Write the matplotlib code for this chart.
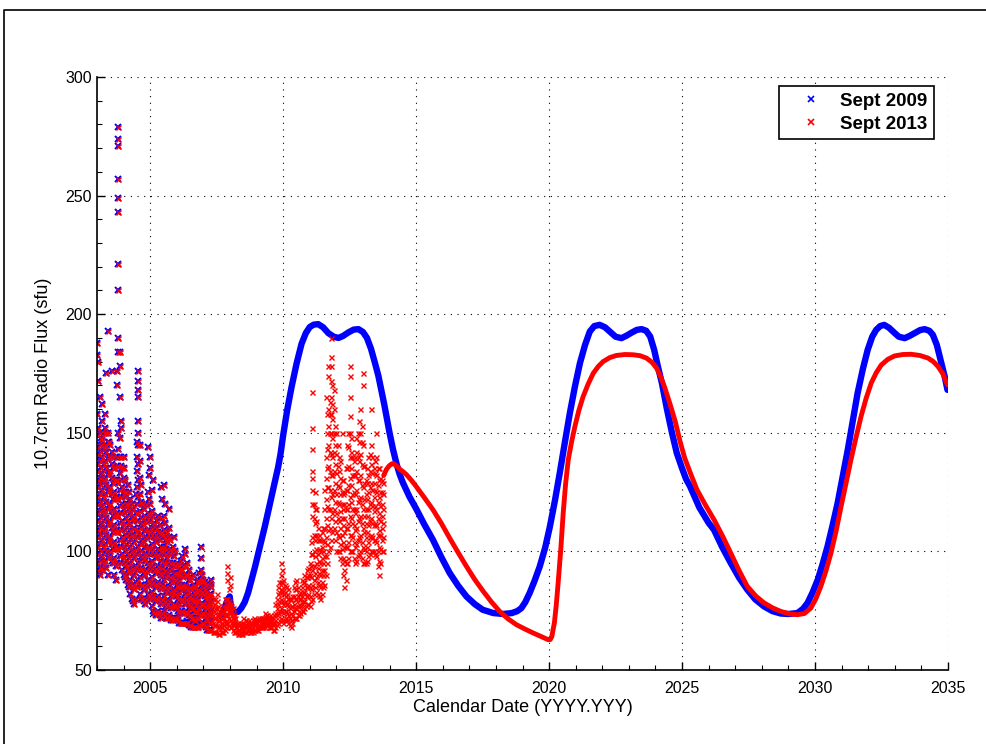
import numpy as np
import matplotlib
matplotlib.use("Agg")
import matplotlib.pyplot as plt
from matplotlib.lines import Line2D

plt.rcParams['font.family'] = ['Liberation Sans', 'DejaVu Sans']

# observed daily flux, grouped in columns: (year, [values])
obs_2003 = [
    (2003.00, [92, 99, 106, 113, 120, 127, 134, 141, 149, 158, 183, 188]),
    (2003.05, [95, 102, 109, 116, 123, 130, 137, 144, 152, 172, 180]),
    (2003.10, [90, 96, 103, 110, 117, 124, 131, 138, 145, 150, 165]),
    (2003.15, [93, 100, 107, 114, 121, 128, 135, 142, 148]),
    (2003.20, [92, 98, 105, 112, 119, 126, 133, 140, 147, 155, 162]),
    (2003.25, [95, 102, 109, 116, 123, 130, 137, 144, 150]),
    (2003.30, [96, 103, 110, 117, 124, 131, 138, 145, 152, 158]),
    (2003.35, [93, 100, 107, 114, 121, 128, 135, 142, 150, 175]),
    (2003.40, [90, 97, 104, 111, 118, 125, 132, 139, 146, 150, 193]),
    (2003.45, [98, 105, 112, 119, 126, 133, 140, 146]),
    (2003.50, [100, 106, 113, 120, 127, 134, 140, 145]),
    (2003.55, [96, 103, 110, 117, 124, 131, 137, 142, 176]),
    (2003.60, [95, 101, 108, 115, 122, 129, 135, 140]),
    (2003.65, [90, 97, 104, 111, 118, 125, 130, 135]),
    (2003.70, [88, 94, 101, 108, 115, 122, 130]),
    (2003.75, [95, 102, 109, 116, 123, 130, 136, 140, 170, 176]),
    (2003.80, [101, 108, 115, 122, 129, 136, 143, 150, 184, 190, 210, 221, 243, 249, 257, 271, 274, 279]),
    (2003.85, [98, 105, 112, 119, 126, 133, 140, 148, 165, 178, 184]),
    (2003.90, [95, 102, 109, 116, 123, 130, 136, 140, 152, 155]),
    (2003.95, [92, 99, 106, 113, 120, 127, 135]),
]
obs_2004 = [
    (2004.00, [90, 97, 104, 111, 118, 125, 131, 135, 140]),
    (2004.05, [89, 95, 102, 109, 116, 123, 130]),
    (2004.10, [88, 94, 100, 107, 114, 120, 125]),
    (2004.15, [86, 92, 99, 106, 113, 120, 128]),
    (2004.20, [85, 91, 97, 104, 111, 118, 125]),
    (2004.25, [82, 88, 95, 102, 109, 116, 122]),
    (2004.30, [80, 86, 93, 100, 107, 114, 120]),
    (2004.35, [79, 85, 92, 99, 106, 113, 118]),
    (2004.40, [78, 84, 90, 97, 104, 110, 115]),
    (2004.45, [80, 87, 94, 101, 108, 116, 124]),
    (2004.50, [85, 92, 99, 106, 113, 120, 127, 134, 140, 146]),
    (2004.55, [88, 95, 102, 109, 116, 123, 130, 137, 145, 150, 155, 165, 168, 172, 176]),
    (2004.60, [82, 89, 96, 103, 110, 117, 124, 131, 138, 145]),
    (2004.65, [80, 86, 93, 100, 107, 114, 121, 128]),
    (2004.70, [80, 86, 92, 98, 105, 112, 120]),
    (2004.75, [79, 85, 91, 97, 104, 111, 118]),
    (2004.80, [78, 84, 90, 96, 102, 109, 115]),
    (2004.85, [80, 86, 92, 99, 106, 113, 120]),
    (2004.90, [82, 88, 95, 102, 109, 116, 125, 144]),
    (2004.95, [81, 87, 94, 101, 108, 115, 122, 132]),
]
obs_2005 = [
    (2005.00, [80, 86, 92, 99, 106, 113, 120, 135, 140]),
    (2005.05, [77, 83, 89, 96, 103, 110, 117, 126]),
    (2005.10, [75, 81, 87, 94, 101, 108, 115, 130]),
    (2005.15, [74, 80, 86, 92, 99, 106, 112]),
    (2005.20, [73, 79, 85, 91, 97, 104, 110]),
    (2005.25, [74, 80, 86, 92, 99, 106, 113]),
    (2005.30, [75, 81, 87, 94, 101, 108, 115]),
    (2005.35, [73, 79, 85, 91, 98, 105, 111]),
    (2005.40, [72, 78, 84, 90, 96, 102, 108, 127]),
    (2005.45, [74, 80, 86, 93, 100, 107, 114, 122]),
    (2005.50, [75, 81, 88, 95, 102, 109, 115, 128]),
    (2005.55, [73, 79, 85, 92, 99, 106, 112, 120]),
    (2005.60, [72, 77, 83, 89, 95, 101, 105]),
    (2005.65, [72, 78, 84, 90, 97, 104, 108]),
    (2005.70, [73, 79, 85, 92, 99, 106, 110, 118]),
    (2005.75, [72, 77, 83, 89, 95, 101, 105]),
    (2005.80, [71, 76, 81, 87, 93, 100]),
    (2005.85, [71, 77, 83, 89, 95, 102]),
    (2005.90, [72, 78, 84, 91, 98, 106]),
    (2005.95, [72, 77, 82, 88, 94, 100]),
]
obs_2006 = [
    (2006.00, [72, 76, 81, 86, 91, 95]),
    (2006.05, [71, 75, 80, 85, 90, 94]),
    (2006.10, [70, 74, 78, 83, 88, 92]),
    (2006.15, [70, 75, 80, 85, 90, 96]),
    (2006.20, [70, 75, 80, 86, 92, 98]),
    (2006.25, [70, 74, 79, 84, 89, 94]),
    (2006.30, [70, 74, 78, 82, 86, 90, 99, 101]),
    (2006.35, [70, 75, 80, 85, 90, 94]),
    (2006.40, [70, 74, 79, 84, 90, 95]),
    (2006.45, [69, 73, 78, 83, 88, 92]),
    (2006.50, [69, 73, 77, 81, 85, 88]),
    (2006.55, [68, 72, 76, 80, 84, 89]),
    (2006.60, [68, 72, 76, 80, 85, 90]),
    (2006.65, [68, 71, 75, 79, 83, 86]),
    (2006.70, [68, 71, 75, 78, 82, 85]),
    (2006.75, [68, 72, 75, 79, 83, 87]),
    (2006.80, [68, 72, 76, 80, 84, 88]),
    (2006.85, [69, 73, 77, 82, 87, 91]),
    (2006.90, [69, 73, 78, 83, 88, 92, 97, 102]),
    (2006.95, [70, 74, 78, 83, 87, 90]),
]
obs_2007 = [
    (2007.00, [70, 74, 78, 82, 85, 88]),
    (2007.05, [69, 73, 77, 81, 84, 87]),
    (2007.10, [68, 72, 76, 80, 83, 86]),
    (2007.15, [67, 71, 74, 78, 81]),
    (2007.20, [67, 70, 73, 77, 80]),
    (2007.25, [67, 70, 74, 78, 82, 86]),
    (2007.30, [67, 71, 75, 79, 82, 85, 88]),
    (2007.35, [66, 70, 73, 77, 80]),
    (2007.40, [66, 69, 72, 75, 78]),
    (2007.45, [66, 69, 72, 76, 80]),
    (2007.50, [66, 69, 73, 76, 79, 82]),
    (2007.55, [65, 68, 71, 74, 77]),
    (2007.60, [65, 68, 71, 73, 75]),
    (2007.65, [66, 68, 70, 72, 74]),
    (2007.70, [66, 68, 70, 72, 74]),
    (2007.75, [66, 69, 72, 75, 77]),
    (2007.80, [67, 70, 73, 76, 80]),
    (2007.85, [68, 71, 74, 77, 80]),
    (2007.90, [70, 73, 76, 78, 80, 88, 91, 94]),
    (2007.95, [69, 72, 75, 77, 79, 84]),
]
obs_2008_2010 = [
    (2008.00, [68, 71, 74, 76, 78, 86, 89]), (2008.05, [68, 70, 73, 75, 77]),
    (2008.10, [67, 70, 72, 74, 76]), (2008.15, [66, 69, 71, 73]),
    (2008.20, [66, 68, 70, 72]), (2008.25, [66, 68, 70]),
    (2008.30, [65, 67, 69, 70]), (2008.35, [65, 67, 69]),
    (2008.40, [65, 66, 68, 70]), (2008.45, [65, 67, 69]),
    (2008.50, [66, 68, 70, 72]), (2008.55, [66, 69, 71]),
    (2008.60, [66, 68, 69, 71]), (2008.65, [67, 69, 70]),
    (2008.70, [67, 68, 70, 71]), (2008.75, [66, 68, 70]),
    (2008.80, [66, 67, 69, 70]), (2008.85, [66, 68, 71]),
    (2008.90, [67, 69, 70, 72]), (2008.95, [67, 69, 71]),
    (2009.00, [67, 68, 70, 71]), (2009.05, [67, 69, 71]),
    (2009.10, [68, 69, 71, 72]), (2009.15, [68, 70, 72]),
    (2009.20, [68, 70, 71, 72]), (2009.25, [68, 70, 72]),
    (2009.30, [68, 70, 72, 74]), (2009.35, [69, 71, 73]),
    (2009.40, [69, 70, 72, 73]), (2009.45, [68, 70, 72]),
    (2009.50, [68, 70, 71, 73]), (2009.55, [68, 70, 72]),
    (2009.60, [67, 69, 70, 72]), (2009.65, [67, 70, 73]),
    (2009.70, [68, 71, 74, 78]), (2009.75, [69, 73, 76, 80]),
    (2009.80, [70, 74, 78, 82, 85]), (2009.85, [71, 75, 79, 83, 87]),
    (2009.90, [72, 76, 80, 84, 87, 90, 95]), (2009.95, [71, 75, 79, 83, 87, 92]),
    (2010.00, [70, 74, 78, 82, 85, 88]), (2010.05, [71, 75, 79, 83, 86]),
    (2010.10, [72, 75, 78, 81, 85]), (2010.15, [71, 74, 78, 82]),
    (2010.20, [70, 73, 77, 80, 84]), (2010.25, [69, 72, 76, 80]),
    (2010.30, [68, 71, 74, 77, 80]), (2010.35, [70, 73, 77, 81]),
    (2010.40, [72, 75, 78, 81, 85]), (2010.45, [72, 76, 80, 84, 87]),
    (2010.50, [72, 76, 80, 84, 88]), (2010.55, [73, 77, 81, 85]),
    (2010.60, [73, 75, 78, 80, 82]), (2010.65, [74, 77, 80, 83]),
    (2010.70, [75, 78, 81, 85, 88]), (2010.75, [75, 79, 83, 87]),
    (2010.80, [76, 79, 83, 87, 90]), (2010.85, [77, 81, 85, 89]),
    (2010.90, [78, 81, 85, 89, 92]), (2010.95, [78, 82, 86, 90, 93]),
]
obs_2011_2013 = [
    (2011.00, [77, 81, 85, 90, 95]),
    (2011.05, [79, 84, 89, 94, 99, 104]),
    (2011.10, [80, 86, 92, 99, 106, 115, 120, 126, 131, 134, 143, 152, 167]),
    (2011.15, [82, 88, 94, 100, 107, 114, 120]),
    (2011.20, [85, 91, 98, 105, 112, 118, 125]),
    (2011.25, [83, 89, 95, 101, 107, 113, 118]),
    (2011.30, [82, 87, 93, 99, 105, 110]),
    (2011.35, [81, 86, 91, 96, 101, 107]),
    (2011.40, [80, 85, 90, 95, 100, 105]),
    (2011.45, [82, 87, 92, 97, 102, 108]),
    (2011.50, [85, 90, 95, 100, 105, 110]),
    (2011.55, [86, 92, 98, 104, 110, 118, 126]),
    (2011.60, [90, 98, 106, 114, 122, 131, 140, 165]),
    (2011.65, [95, 103, 111, 119, 127, 135, 143, 150, 158]),
    (2011.70, [100, 109, 118, 127, 136, 145, 153, 160, 174, 178]),
    (2011.75, [102, 110, 118, 126, 134, 142, 150, 158, 163]),
    (2011.80, [105, 114, 123, 132, 141, 150, 158, 165, 172, 178, 182, 190]),
    (2011.85, [108, 116, 124, 132, 140, 148, 156, 162, 170]),
    (2011.90, [110, 118, 126, 134, 142, 150, 160, 168]),
    (2011.95, [105, 113, 121, 129, 137, 145, 153]),
    (2012.00, [100, 108, 116, 124, 133, 141, 150]),
    (2012.05, [100, 107, 114, 121, 128, 136, 145]),
    (2012.10, [100, 106, 113, 120, 127, 134, 140]),
    (2012.15, [97, 103, 110, 117, 124, 131, 138]),
    (2012.20, [95, 101, 107, 114, 120, 125, 130, 150]),
    (2012.25, [90, 97, 104, 111, 118, 124, 130]),
    (2012.30, [85, 92, 96, 102, 108, 114, 120, 125]),
    (2012.35, [88, 95, 102, 110, 118, 126, 135]),
    (2012.40, [95, 102, 110, 118, 126, 135, 145]),
    (2012.45, [97, 104, 112, 120, 128, 136, 144, 150]),
    (2012.50, [100, 107, 115, 123, 131, 140, 150, 157, 165, 174, 178]),
    (2012.55, [100, 107, 114, 121, 128, 135, 142, 148]),
    (2012.60, [100, 106, 112, 118, 124, 132, 140]),
    (2012.65, [97, 104, 111, 118, 125, 132, 138]),
    (2012.70, [95, 102, 109, 116, 124, 132, 140]),
    (2012.75, [96, 103, 110, 118, 126, 134, 142, 148]),
    (2012.80, [98, 105, 113, 121, 130, 140, 150]),
    (2012.85, [99, 106, 114, 122, 130, 138, 146, 155]),
    (2012.90, [100, 107, 115, 123, 132, 141, 150, 160]),
    (2012.95, [97, 104, 112, 120, 128, 137, 146, 153]),
    (2013.00, [95, 102, 110, 118, 127, 136, 145, 170, 175]),
    (2013.05, [95, 101, 108, 115, 122, 129, 136]),
    (2013.10, [95, 100, 106, 112, 118, 124, 130]),
    (2013.15, [96, 102, 108, 115, 122, 129, 135]),
    (2013.20, [98, 104, 111, 118, 125, 132, 140]),
    (2013.25, [99, 106, 113, 120, 127, 134, 141]),
    (2013.30, [100, 107, 114, 121, 129, 137, 145, 160]),
    (2013.35, [100, 106, 112, 119, 126, 133, 140]),
    (2013.40, [100, 105, 111, 117, 123, 129, 135]),
    (2013.45, [99, 105, 112, 119, 126, 133, 138]),
    (2013.50, [98, 104, 111, 118, 125, 132, 140, 150]),
    (2013.55, [94, 100, 107, 114, 121, 128, 135]),
    (2013.60, [90, 96, 102, 109, 116, 123, 130, 135]),
    (2013.65, [95, 101, 107, 113, 119, 125, 131]),
    (2013.70, [100, 105, 110, 115, 120, 125, 130]),
    (2013.75, [100, 106, 112, 118, 124, 129]),
]

# smoothed values only in the Sept 2009 file
blue_low_year = [2006.4, 2006.5, 2006.6, 2006.7, 2006.8, 2006.9, 2007.0, 2007.1, 2007.2]
blue_low_flux = [70.5, 70, 70, 69.5, 69.5, 69.5, 70, 70, 70]

# Sept 2009 prediction
pred09_year = [2007.67, 2007.8, 2007.93, 2007.99, 2008.03, 2008.1, 2008.2, 2008.3, 2008.42,
               2008.55, 2008.68, 2008.8, 2008.93, 2009.06, 2009.18, 2009.31, 2009.43, 2009.56,
               2009.68, 2009.81, 2009.9, 2010.0, 2010.15, 2010.31, 2010.5, 2010.69, 2010.85,
               2011.0, 2011.15, 2011.32, 2011.5, 2011.7, 2011.9, 2012.08, 2012.25, 2012.45,
               2012.65, 2012.83, 2013.0, 2013.15, 2013.3, 2013.45, 2013.58, 2013.7, 2013.8,
               2013.9, 2014.0, 2014.13, 2014.26, 2014.38, 2014.5, 2014.75, 2015.0, 2015.3,
               2015.63, 2015.95, 2016.26, 2016.58, 2016.89, 2017.2, 2017.5, 2017.9, 2018.27,
               2018.6, 2018.8, 2018.95, 2019.1, 2019.27, 2019.45, 2019.65, 2019.85, 2020.03,
               2020.22, 2020.4, 2020.6, 2020.78, 2020.97, 2021.16, 2021.35, 2021.53, 2021.7,
               2021.9, 2022.1, 2022.28, 2022.5, 2022.72, 2022.92, 2023.1, 2023.3, 2023.48,
               2023.65, 2023.8, 2023.95, 2024.1, 2024.24, 2024.43, 2024.62, 2024.8, 2025.0,
               2025.15, 2025.3, 2025.65, 2026.0, 2026.2, 2026.5, 2026.83, 2027.15, 2027.45,
               2027.75, 2028.08, 2028.4, 2028.71, 2029.0, 2029.34, 2029.55, 2029.72, 2029.9,
               2030.1, 2030.28, 2030.47, 2030.66, 2030.85, 2031.04, 2031.23, 2031.42, 2031.6,
               2031.8, 2031.98, 2032.15, 2032.3, 2032.45, 2032.6, 2032.78, 2032.95, 2033.15,
               2033.37, 2033.55, 2033.74, 2033.95, 2034.12, 2034.3, 2034.43, 2034.58, 2034.75,
               2034.88, 2034.98]
pred09_flux = [72.5, 76.5, 80, 81, 77, 75, 74.3, 74.5, 76,
               78.5, 82.5, 87.5, 93, 99, 104.5, 110.5, 116.5, 123,
               129, 135.5, 141, 149, 159.5, 169, 179, 187.5, 192,
               194.6, 195.6, 195.8, 194.5, 192, 190.5, 190, 190.8, 192.3,
               193.5, 193.7, 192.5, 190, 185.5, 179.5, 174, 167.5, 162,
               156, 150, 143, 137, 132.5, 129, 123, 118, 111.5,
               104.9, 97.5, 90.9, 85.5, 81, 77.8, 75.4, 74, 73.6,
               74, 74.8, 76, 78.5, 82.5, 87.5, 93.7, 101.5, 110.5,
               121.5, 133, 146.5, 158.3, 169.5, 179.4, 187, 192.7, 195,
               195.5, 194.5, 192.7, 190.5, 189.9, 191, 192.2, 193.4, 193.7,
               193, 190.6, 185, 177.5, 171, 160, 150, 141.5, 135,
               130.5, 127.4, 118.5, 112, 109.1, 102, 95.1, 88.8, 83.9,
               79.8, 76.8, 74.8, 73.8, 73.6, 74, 75.8, 78.3, 82.5,
               88, 94.5, 102.1, 111, 120.4, 131.5, 142.8, 155, 166.7,
               177, 185, 190.5, 193.4, 195, 195.5, 194.3, 192.5, 190.5,
               189.9, 190.8, 192, 193.3, 193.7, 193, 191.3, 187, 179.4,
               173.5, 168.1]

# Sept 2013 prediction
pred13_year = [2013.78, 2013.88, 2013.98, 2014.08, 2014.15, 2014.27, 2014.4, 2014.52, 2014.64,
               2014.82, 2015.0, 2015.3, 2015.63, 2015.95, 2016.26, 2016.58, 2016.89, 2017.2,
               2017.52, 2017.83, 2018.14, 2018.45, 2018.77, 2019.1, 2019.4, 2019.7, 2019.96,
               2020.04, 2020.1, 2020.2, 2020.27, 2020.34, 2020.44, 2020.53, 2020.62, 2020.72,
               2020.85, 2020.97, 2021.12, 2021.28, 2021.47, 2021.66, 2021.85, 2022.03, 2022.28,
               2022.53, 2022.85, 2023.16, 2023.42, 2023.66, 2023.86, 2024.04, 2024.2, 2024.35,
               2024.55, 2024.75, 2024.92, 2025.1, 2025.33, 2025.56, 2025.88, 2026.2, 2026.52,
               2026.83, 2027.14, 2027.45, 2027.77, 2028.08, 2028.4, 2028.71, 2029.03, 2029.34,
               2029.6, 2029.84, 2030.03, 2030.22, 2030.41, 2030.6, 2030.79, 2030.98, 2031.17,
               2031.35, 2031.54, 2031.73, 2031.92, 2032.11, 2032.3, 2032.49, 2032.74, 2032.99,
               2033.3, 2033.62, 2033.94, 2034.25, 2034.45, 2034.62, 2034.8, 2034.98]
pred13_flux = [132, 134.5, 136, 136.9, 137, 136, 134.5, 133.5, 132.3,
               130, 127.4, 122.8, 117.6, 111.8, 105.6, 99.5, 93.7, 88.2,
               83.2, 78.7, 74.7, 71.6, 69.1, 67.2, 65.6, 64.1, 62.8,
               62.8, 64, 70, 77.5, 86.7, 101, 116.2, 128.5, 138.6,
               146.5, 152.7, 159.5, 165.3, 170.6, 175.1, 178, 180, 181.7,
               182.6, 183, 182.9, 182.5, 181.5, 179.8, 177.3, 173.5, 169,
               162, 154.5, 146.5, 139.3, 132.5, 126, 119.5, 113.4, 106.5,
               99.3, 92, 85.3, 81.2, 78.3, 76.2, 74.7, 73.7, 73.3,
               73.8, 76.1, 80, 85.3, 91.8, 99.3, 108.5, 119, 129,
               138.6, 148, 156.9, 164.5, 170.9, 175.3, 178.6, 181, 182.4,
               183, 183.1, 182.6, 181.5, 180, 178, 175, 170.2]


def flatten(rows):
    t, v = [], []
    for year, vals in rows:
        t += [year] * len(vals)
        v += vals
    return np.array(t), np.array(v, dtype=float)


obs_t, obs_v = flatten(obs_2003 + obs_2004 + obs_2005 + obs_2006 + obs_2007
                       + obs_2008_2010 + obs_2011_2013)
blue_t = np.concatenate([obs_t[obs_t <= 2007.3], blue_low_year])
blue_v = np.concatenate([obs_v[obs_t <= 2007.3], blue_low_flux])

fig = plt.figure(figsize=(9.87, 7.44), dpi=100)
ax = fig.add_axes([0.0983, 0.0995, 0.8622, 0.797])

# Sept 2009
ax.plot(blue_t, blue_v, 'x', color='#0000ff', ms=4.2, mew=1.4)
ax.plot(pred09_year, pred09_flux, '-', color='#0000ff', lw=4.6,
        solid_capstyle='round', solid_joinstyle='round')
# Sept 2013
ax.plot(obs_t, obs_v, 'x', color='#ff0000', ms=3.6, mew=1.0)
ax.plot(pred13_year, pred13_flux, '-', color='#ff0000', lw=3.5,
        solid_capstyle='round', solid_joinstyle='round')

ax.set_xlim(2003, 2035)
ax.set_ylim(50, 300)
ax.set_xticks(np.arange(2005, 2036, 5))
ax.set_yticks(np.arange(50, 301, 50))
ax.set_xticks(np.arange(2003, 2036, 1), minor=True)
ax.set_yticks(np.arange(50, 301, 10), minor=True)
ax.tick_params(which='both', direction='in', top=False, right=False, labelsize=11.5)
ax.tick_params(which='major', length=6, width=1)
ax.tick_params(which='minor', length=3.5, width=0.8)
ax.tick_params(axis='x', which='major', pad=8)
ax.grid(True, which='major', color='black', linestyle=(0, (1, 5)), linewidth=0.8)
for s in ['top', 'right']:
    ax.spines[s].set_visible(False)
for s in ['left', 'bottom']:
    ax.spines[s].set_linewidth(1.2)

ax.set_xlabel('Calendar Date (YYYY.YYY)', fontsize=13, labelpad=2)
ax.set_ylabel('10.7cm Radio Flux (sfu)', fontsize=13, labelpad=10)

handles = [Line2D([], [], marker='x', ls='none', color='#0000ff', ms=4, mew=1.2),
           Line2D([], [], marker='x', ls='none', color='#ff0000', ms=4, mew=1.2)]
leg = ax.legend(handles, ['Sept 2009', 'Sept 2013'], loc='upper right',
                bbox_to_anchor=(0.9835, 0.9848), borderaxespad=0,
                prop={'weight': 'bold', 'size': 13.5}, fancybox=False, framealpha=1,
                edgecolor='black', handlelength=2.7, handletextpad=0.2,
                borderpad=0.35, labelspacing=0.32)
leg.get_frame().set_linewidth(1.2)

# outer frame line
fig.add_artist(Line2D([4 / 987, 4 / 987, 1.0], [0.0, 1 - 10 / 744, 1 - 10 / 744],
                      transform=fig.transFigure, color='black', lw=1.2))

fig.savefig('out.png', dpi=100)
